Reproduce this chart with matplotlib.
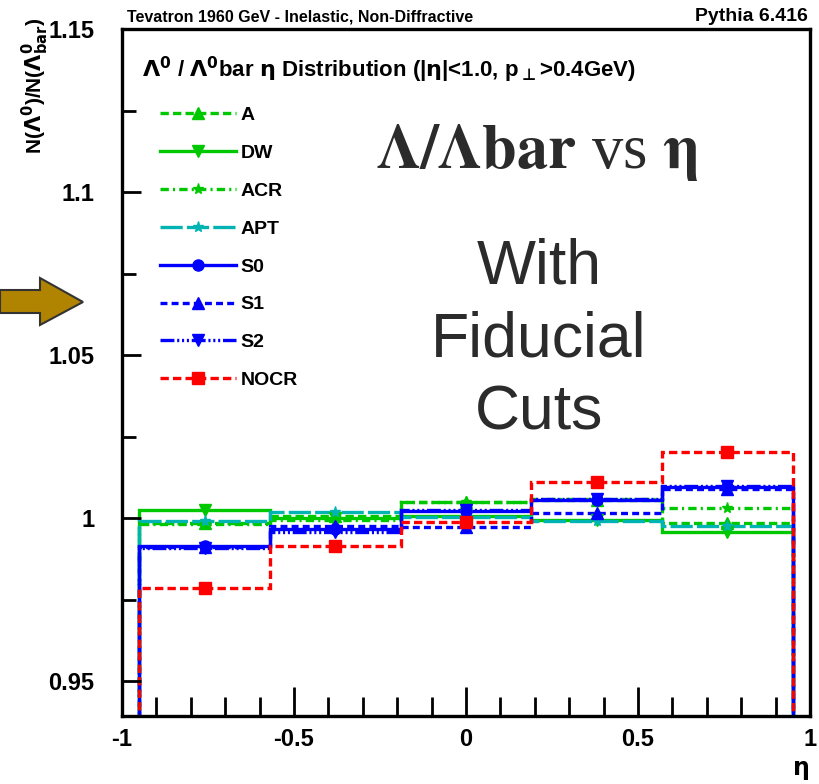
import numpy as np
import matplotlib.pyplot as plt
from matplotlib.lines import Line2D
from matplotlib.patches import Polygon
from matplotlib.ticker import MultipleLocator

plt.rcParams['font.family'] = ['Liberation Sans', 'DejaVu Sans']
plt.rcParams['font.weight'] = 'bold'
plt.rcParams['mathtext.fontset'] = 'custom'
plt.rcParams['mathtext.rm'] = 'DejaVu Sans:bold'
plt.rcParams['mathtext.it'] = 'DejaVu Sans:bold'
plt.rcParams['mathtext.bf'] = 'DejaVu Sans:bold'
plt.rcParams['lines.scale_dashes'] = False

# bins en eta
eta_edges = [-0.95, -0.57, -0.19, 0.19, 0.57, 0.95]

# rapport N(Lambda)/N(Lambdabar) par tune
tunes = ['A', 'DW', 'ACR', 'APT', 'S0', 'S1', 'S2', 'NOCR']
ratio_A = [0.9985, 1.0005, 1.0050, 1.0055, 0.9985]
ratio_DW = [1.0025, 1.0000, 1.0005, 0.9995, 0.9958]
ratio_ACR = [0.9982, 0.9995, 1.0048, 1.0060, 1.0030]
ratio_APT = [0.9992, 1.0018, 1.0004, 0.9990, 0.9975]
ratio_S0 = [0.9915, 0.9965, 1.0022, 1.0055, 1.0095]
ratio_S1 = [0.9912, 0.9975, 0.9972, 1.0015, 1.0090]
ratio_S2 = [0.9908, 0.9958, 1.0025, 1.0060, 1.0098]
ratio_NOCR = [0.9785, 0.9914, 0.9989, 1.0111, 1.0203]

x_ticks = [-1, -0.5, 0, 0.5, 1]
x_tick_labels = ['-1', '-0.5', '0', '0.5', '1']
y_ticks = [0.95, 1.0, 1.05, 1.1, 1.15]
y_tick_labels = ['0.95', '1', '1.05', '1.1', '1.15']

vert = '#00c800'
cyan = '#00b4b4'
bleu = '#0000ff'
rouge = '#ff0000'

styles = {
    'A': dict(color=vert, ls=(0, (6, 3)), marker='^'),
    'DW': dict(color=vert, ls='-', marker='v'),
    'ACR': dict(color=vert, ls=(0, (6, 3, 1.5, 3)), marker='*'),
    'APT': dict(color=cyan, ls=(0, (16, 3)), marker='*'),
    'S0': dict(color=bleu, ls='-', marker='o'),
    'S1': dict(color=bleu, ls=(0, (5, 3)), marker='^'),
    'S2': dict(color=bleu, ls=(0, (10, 2, 1.5, 2, 1.5, 2, 1.5, 2)), marker='v'),
    'NOCR': dict(color=rouge, ls=(0, (6, 3)), marker='s'),
}
valeurs = {
    'A': ratio_A, 'DW': ratio_DW, 'ACR': ratio_ACR, 'APT': ratio_APT,
    'S0': ratio_S0, 'S1': ratio_S1, 'S2': ratio_S2, 'NOCR': ratio_NOCR,
}

fig = plt.figure(figsize=(8.19, 7.84), dpi=100)
ax = fig.add_axes([122 / 819, 68 / 784, 688 / 819, 687 / 784])

edges = np.array(eta_edges)
centres = 0.5 * (edges[:-1] + edges[1:])
handles = []
for t in tunes:
    st = styles[t]
    ms = 9 if st['marker'] == 's' else 8
    ax.stairs(valeurs[t], edges, baseline=0.9, fill=False,
              edgecolor=st['color'], linestyle=st['ls'], linewidth=2.4)
    ax.plot(centres, valeurs[t], linestyle='none', marker=st['marker'],
            color=st['color'], markersize=ms)
    handles.append(Line2D([], [], color=st['color'], linestyle=st['ls'],
                          linewidth=2.4, marker=st['marker'], markersize=ms))

ax.set_xlim(-1, 1)
ax.set_ylim(0.9393, 1.15)
ax.set_xticks(x_ticks)
ax.set_xticklabels(x_tick_labels)
ax.set_yticks(y_ticks)
ax.set_yticklabels(y_tick_labels)
ax.xaxis.set_minor_locator(MultipleLocator(0.1))
ax.yaxis.set_minor_locator(MultipleLocator(0.025))
ax.tick_params(axis='x', which='major', direction='in', length=21, width=2,
               labelsize=17, pad=9)
ax.tick_params(axis='x', which='minor', direction='in', length=14, width=2)
ax.tick_params(axis='y', which='major', direction='in', length=14, width=2,
               labelsize=17, pad=20)
ax.tick_params(axis='y', which='minor', direction='in', length=10, width=2)
for sp in ax.spines.values():
    sp.set_linewidth(2.4)

ax.legend(handles, tunes, loc='upper left', bbox_to_anchor=(0.055, 0.887),
          frameon=False, fontsize=14, handlelength=3.9, handletextpad=0.25,
          labelspacing=1.04, borderpad=0, borderaxespad=0)

# textes ROOT
fig.text(127 / 819, 1 - 21 / 784, 'Tevatron 1960 GeV - Inelastic, Non-Diffractive',
         fontsize=11.5, va='baseline', ha='left')
fig.text(808 / 819, 1 - 21 / 784, 'Pythia 6.416', fontsize=14,
         va='baseline', ha='right')
fig.text(142 / 819, 1 - 70 / 784,
         r'$\Lambda^0$ / $\Lambda^0$bar $\eta$ Distribution (|$\eta$|<1.0, p$_{\bot}$>0.4GeV)',
         fontsize=16, va='center', ha='left')
fig.text(35 / 819, 1 - 18 / 784, r'N($\Lambda^0$)/N($\Lambda^0_{bar}$)',
         fontsize=15, rotation=90, va='top', ha='center')
fig.text(800 / 819, 1 - 770 / 784, r'$\eta$', fontsize=17, va='center', ha='center')

# annotations de la diapo
fig.text(537 / 819, 1 - 168 / 784, r'$\mathbf{\Lambda/\Lambda bar}$ vs $\mathbf{\eta}$',
         family='Liberation Serif', fontweight='normal', math_fontfamily='stix',
         fontsize=45, color='#2b2b2b', va='baseline', ha='center')
fig.text(539 / 819, 1 - 340 / 784, 'With\nFiducial\nCuts', fontsize=45,
         fontweight='normal', color='#2b2b2b', va='center', ha='center',
         linespacing=1.31)

# fleche
pts = np.array([[0, 290], [40, 290], [40, 278], [83, 302],
                [40, 325], [40, 313], [0, 313]], dtype=float)
pts[:, 0] /= 819
pts[:, 1] = 1 - pts[:, 1] / 784
fig.patches.append(Polygon(pts, closed=True, transform=fig.transFigure,
                           facecolor='#b08300', edgecolor='#333333', linewidth=1.5))

fig.savefig('out.png', dpi=100)
plt.close('all')
